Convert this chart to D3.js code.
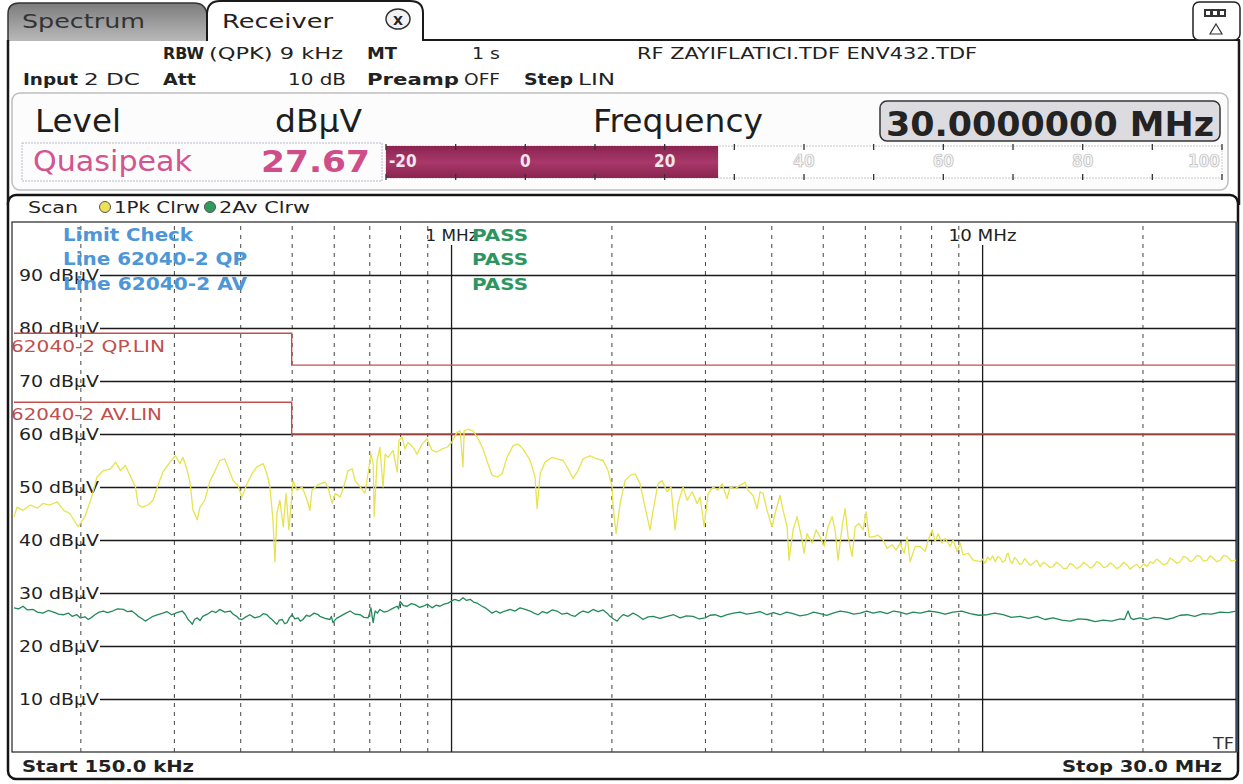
<!DOCTYPE html>
<html>
<head>
<meta charset="utf-8">
<script src="https://cdn.jsdelivr.net/npm/d3@7"></script>
<style>
  body { margin: 0; background: #fff; }
  svg { display: block; font-family: "DejaVu Sans", Verdana, sans-serif; }
</style>
</head>
<body>
<svg id="chart" width="1243" height="784"></svg>
<script>
// ---- Receiver scan data (frequency in MHz, level in dBµV) ----
const pkTrace = [
  [0.150,44.4],[0.152,46.2],[0.156,45.6],[0.161,46.6],[0.166,46.0],[0.170,46.9],[0.175,46.6],[0.181,47.2],
  [0.186,45.6],[0.191,45.0],[0.198,42.5],[0.204,44.4],[0.210,48.1],[0.215,51.9],[0.221,53.1],[0.228,53.4],
  [0.233,54.7],[0.238,53.1],[0.243,54.1],[0.248,52.2],[0.254,50.0],[0.257,46.6],[0.262,46.2],[0.268,46.6],
  [0.274,47.5],[0.280,50.3],[0.286,52.8],[0.295,54.7],[0.302,55.9],[0.308,54.4],[0.312,55.6],[0.318,53.1],
  [0.322,50.6],[0.326,45.6],[0.332,43.8],[0.336,46.2],[0.343,47.5],[0.351,51.2],[0.359,53.1],[0.366,55.0],
  [0.374,55.3],[0.379,53.8],[0.388,51.2],[0.396,50.3],[0.403,48.1],[0.412,50.6],[0.421,52.5],[0.430,53.8],
  [0.442,54.4],[0.449,52.5],[0.455,50.0],[0.461,43.8],[0.465,35.9],[0.469,45.0],[0.475,47.5],[0.482,42.5],
  [0.488,48.8],[0.494,41.9],[0.503,51.2],[0.512,49.4],[0.523,50.0],[0.535,47.5],[0.541,45.6],[0.546,49.4],
  [0.558,50.3],[0.565,50.6],[0.578,50.9],[0.585,50.0],[0.596,46.9],[0.604,48.8],[0.617,48.1],[0.630,50.9],
  [0.638,53.1],[0.650,53.4],[0.658,51.2],[0.673,50.0],[0.687,48.8],[0.696,52.5],[0.705,56.2],[0.712,54.4],
  [0.715,44.4],[0.724,55.0],[0.733,57.5],[0.743,50.0],[0.750,56.2],[0.759,55.6],[0.776,56.9],[0.790,52.8],
  [0.796,58.8],[0.807,59.4],[0.817,57.2],[0.828,58.4],[0.846,57.5],[0.861,56.2],[0.880,58.1],[0.899,59.1],
  [0.919,56.9],[0.939,56.6],[0.960,57.2],[0.981,57.5],[1.000,58.4],[1.024,60.3],[1.038,60.6],[1.051,53.8],
  [1.056,60.6],[1.074,60.9],[1.098,60.6],[1.122,59.1],[1.146,57.2],[1.171,54.4],[1.192,52.2],[1.218,51.9],
  [1.245,52.5],[1.272,55.6],[1.306,57.8],[1.335,58.1],[1.363,57.2],[1.406,55.0],[1.436,51.9],[1.449,45.9],
  [1.468,52.5],[1.500,54.7],[1.546,55.6],[1.580,55.3],[1.622,55.0],[1.658,53.4],[1.693,51.6],[1.730,53.1],
  [1.768,55.3],[1.823,55.9],[1.879,55.3],[1.929,55.0],[1.971,53.1],[2.006,50.0],[2.015,46.2],[2.041,41.2],
  [2.077,46.9],[2.123,51.2],[2.168,52.2],[2.216,52.5],[2.265,50.6],[2.314,46.2],[2.365,41.9],[2.396,45.6],
  [2.448,50.6],[2.491,51.2],[2.546,49.1],[2.590,50.0],[2.636,41.9],[2.670,46.9],[2.729,50.0],[2.777,47.5],
  [2.838,49.1],[2.900,46.9],[2.938,48.1],[2.990,42.5],[3.042,48.8],[3.109,50.0],[3.176,49.4],[3.231,50.6],
  [3.302,47.8],[3.345,50.0],[3.419,49.7],[3.494,50.3],[3.570,50.9],[3.617,49.4],[3.696,48.4],[3.761,45.9],
  [3.810,49.1],[3.860,48.8],[3.927,45.6],[4.013,42.5],[4.066,45.0],[4.155,48.4],[4.210,45.6],[4.284,42.5],
  [4.321,36.2],[4.396,41.9],[4.473,44.4],[4.571,40.0],[4.611,37.5],[4.671,41.2],[4.774,39.4],[4.857,41.9],
  [4.943,40.6],[5.029,38.8],[5.117,42.5],[5.207,44.4],[5.275,41.9],[5.344,36.2],[5.437,42.5],[5.509,45.9],
  [5.581,40.6],[5.679,36.9],[5.754,42.5],[5.854,43.1],[5.957,41.9],[6.035,45.3],[6.114,40.6],[6.221,40.6],
  [6.357,40.9],[6.496,40.0],[6.610,38.4],[6.755,39.1],[6.873,38.1],[6.993,39.4],[7.116,37.5],[7.209,40.6],
  [7.303,35.9],[7.464,38.8],[7.627,38.8],[7.794,37.8],[7.896,40.0],[8.034,41.9],[8.140,39.7],[8.246,41.2],
  [8.391,39.4],[8.501,40.3],[8.687,38.8],[8.801,40.0],[8.955,37.8],[9.072,39.4],[9.191,37.2],[9.392,37.5],
  [9.597,36.2],[9.892,35.9],[10.00,36.4],[10.11,35.6],[10.22,36.8],[10.33,36.2],[10.45,37.0],[10.56,35.9],
  [10.67,36.9],[10.79,36.6],[10.91,35.8],[11.03,36.2],[11.10,37.3],[11.17,37.5],[11.27,36.0],[11.37,35.6],
  [11.49,36.7],[11.61,36.2],[11.74,35.4],[11.87,35.6],[12.00,36.5],[12.13,35.9],[12.29,35.2],[12.45,35.6],
  [12.64,36.2],[12.83,35.0],[13.03,35.8],[13.23,35.3],[13.40,34.8],[13.57,35.0],[13.78,35.8],[13.99,35.3],
  [14.20,34.6],[14.42,34.7],[14.61,35.6],[14.80,35.3],[15.03,34.6],[15.26,35.0],[15.50,35.8],[15.73,35.3],
  [15.94,34.7],[16.15,35.0],[16.40,35.9],[16.64,35.6],[16.90,34.8],[17.16,35.0],[17.38,35.7],[17.61,35.3],
  [17.88,34.6],[18.15,35.0],[18.43,35.8],[18.71,35.3],[18.95,34.5],[19.20,35.0],[19.50,35.4],[19.80,34.7],
  [20.10,35.5],[20.41,35.0],[20.68,35.9],[20.95,35.6],[21.27,36.4],[21.59,35.9],[21.92,35.3],[22.26,35.6],
  [22.55,36.6],[22.85,36.2],[23.20,35.6],[23.55,35.9],[23.90,36.9],[24.27,36.6],[24.60,35.9],[24.91,36.2],
  [25.30,37.1],[25.68,36.9],[26.07,36.0],[26.47,36.2],[26.82,37.0],[27.17,36.6],[27.60,35.9],[28.01,36.2],
  [28.44,37.1],[28.87,36.9],[29.40,36.0],[30.00,36.2]
];

const avTrace = [
  [0.150,27.2],[0.153,27.0],[0.156,27.5],[0.159,26.8],[0.163,26.9],[0.166,26.4],[0.170,26.2],[0.174,26.7],
  [0.178,26.4],[0.182,26.0],[0.186,25.9],[0.190,26.2],[0.193,25.6],[0.197,25.9],[0.200,25.3],[0.204,25.5],
  [0.207,25.0],[0.210,25.4],[0.213,25.9],[0.217,26.4],[0.221,26.6],[0.225,26.3],[0.230,26.6],[0.235,27.0],
  [0.241,26.9],[0.245,26.5],[0.250,26.6],[0.254,26.1],[0.257,25.6],[0.261,25.2],[0.265,24.7],[0.269,25.1],
  [0.274,25.6],[0.280,25.9],[0.286,26.2],[0.291,26.5],[0.297,25.9],[0.304,26.3],[0.311,26.6],[0.315,26.0],
  [0.319,25.0],[0.322,24.6],[0.325,24.1],[0.328,25.0],[0.332,25.3],[0.336,24.8],[0.340,25.6],[0.347,26.0],
  [0.354,26.6],[0.360,26.3],[0.366,26.9],[0.374,26.4],[0.383,26.6],[0.388,26.0],[0.394,25.6],[0.398,25.1],
  [0.403,25.0],[0.410,25.5],[0.417,25.9],[0.426,25.3],[0.436,25.6],[0.442,26.1],[0.449,25.9],[0.454,25.4],
  [0.459,25.0],[0.464,24.5],[0.469,24.1],[0.474,24.9],[0.480,25.0],[0.485,24.2],[0.490,24.4],[0.495,25.3],
  [0.501,25.9],[0.507,25.1],[0.514,25.3],[0.519,24.7],[0.525,25.0],[0.533,25.8],[0.541,25.6],[0.551,26.2],
  [0.561,25.9],[0.565,25.6],[0.578,25.2],[0.590,25.0],[0.594,25.6],[0.598,24.4],[0.607,25.2],[0.617,25.6],
  [0.630,26.1],[0.644,26.6],[0.658,26.0],[0.673,25.9],[0.684,25.4],[0.696,25.3],[0.700,26.0],[0.705,27.2],
  [0.709,25.5],[0.712,24.4],[0.715,25.6],[0.718,26.6],[0.725,26.2],[0.733,26.9],[0.746,26.4],[0.759,26.6],
  [0.775,27.1],[0.790,27.5],[0.795,27.0],[0.800,28.4],[0.812,27.6],[0.825,27.5],[0.840,28.0],[0.854,27.8],
  [0.869,27.3],[0.884,27.5],[0.901,27.9],[0.919,27.2],[0.935,27.7],[0.951,27.5],[0.968,27.9],[0.985,28.1],
  [1.000,28.5],[1.015,28.8],[1.033,28.5],[1.051,29.1],[1.067,28.6],[1.084,28.8],[1.100,28.3],[1.117,28.1],
  [1.137,27.6],[1.157,27.2],[1.175,26.7],[1.192,26.2],[1.213,26.6],[1.234,26.2],[1.260,26.6],[1.289,26.9],
  [1.317,26.6],[1.346,27.2],[1.376,26.9],[1.406,26.6],[1.430,26.2],[1.455,25.9],[1.484,26.5],[1.513,26.2],
  [1.546,26.8],[1.580,26.6],[1.615,26.0],[1.651,26.2],[1.680,25.8],[1.709,25.6],[1.738,26.2],[1.768,26.6],
  [1.808,26.3],[1.847,26.9],[1.888,26.5],[1.929,26.8],[1.963,26.2],[1.988,25.6],[2.020,25.1],[2.050,24.7],
  [2.077,25.4],[2.104,25.9],[2.150,25.6],[2.197,26.2],[2.245,25.7],[2.294,25.0],[2.345,25.5],[2.396,25.6],
  [2.470,25.2],[2.546,25.6],[2.620,25.9],[2.694,25.3],[2.770,25.7],[2.850,25.6],[2.925,25.1],[3.002,25.3],
  [3.068,25.8],[3.135,25.9],[3.218,25.5],[3.302,25.9],[3.398,26.2],[3.494,26.4],[3.595,26.0],[3.696,26.2],
  [3.810,26.5],[3.927,25.9],[4.040,26.3],[4.155,25.9],[4.275,26.4],[4.396,26.1],[4.530,25.7],[4.671,25.9],
  [4.805,26.4],[4.943,26.1],[5.085,25.8],[5.230,26.2],[5.390,26.6],[5.557,26.4],[5.720,26.0],[5.880,26.2],
  [6.050,26.6],[6.221,26.2],[6.410,26.5],[6.610,26.1],[6.800,26.6],[6.993,26.4],[7.190,26.0],[7.398,26.4],
  [7.627,26.2],[7.910,26.6],[8.209,26.4],[8.500,26.0],[8.801,26.4],[9.130,26.6],[9.473,26.1],[9.830,25.8],
  [10.20,25.9],[10.55,26.2],[10.93,25.9],[11.33,25.4],[11.76,25.6],[12.20,25.2],[12.66,25.6],[13.10,25.0],
  [13.57,25.3],[14.10,24.9],[14.62,24.7],[15.16,25.1],[15.73,25.0],[16.30,24.6],[16.87,24.9],[17.50,24.7],
  [18.15,25.1],[18.50,25.0],[18.79,26.6],[19.00,25.3],[19.20,25.0],[19.80,25.3],[20.41,25.0],[21.00,25.4],
  [21.59,25.3],[22.20,25.0],[22.85,25.3],[23.55,25.8],[24.27,25.9],[25.10,25.6],[26.02,26.1],[27.00,26.0],
  [28.01,26.4],[29.00,26.3],[30.00,26.6]
];

// Limit lines (EN 62040-2)
const qpLimit = [[0.15,79],[0.5,79],[0.5,73],[30,73]];
const avLimit = [[0.15,66],[0.5,66],[0.5,60],[30,60]];

// Axis ticks
const yTicks = [10,20,30,40,50,60,70,80,90];
const minorFreqs = [0.2,0.3,0.4,0.5,0.6,0.7,0.8,0.9,2,3,4,5,6,7,8,9,20];
const majorFreqs = [1,10];
const majorFreqLabels = ["1 MHz","10 MHz"];

// Level meter
const meterTicks = [-20,-10,0,10,20,30,40,50,60,70,80,90,100];
const meterLabels = [-20,0,20,40,60,80,100];
const levelValue = 27.67;

// ---- helpers ----
const svg = d3.select("#chart");
const FONT = '"DejaVu Sans", Verdana, sans-serif';
const NARROW = '"Liberation Sans Narrow", "DejaVu Sans Condensed", "Liberation Sans", sans-serif';

function label(parent, x, y, s, o = {}) {
  const t = parent.append("text")
    .attr("x", x).attr("y", y).text(s)
    .attr("font-size", o.size || 16)
    .attr("fill", o.fill || "#222")
    .attr("text-anchor", o.anchor || "start");
  if (o.bold) t.attr("font-weight", "bold");
  if (o.family) t.attr("font-family", o.family);
  if (o.w) t.attr("textLength", o.w).attr("lengthAdjust", "spacingAndGlyphs");
  return t;
}

const defs = svg.append("defs");
const tabGrad = defs.append("linearGradient").attr("id", "tabGrad").attr("x1",0).attr("y1",0).attr("x2",0).attr("y2",1);
tabGrad.append("stop").attr("offset","0%").attr("stop-color","#7c7c7c");
tabGrad.append("stop").attr("offset","100%").attr("stop-color","#b9b9b9");
const barGrad = defs.append("linearGradient").attr("id", "barGrad").attr("x1",0).attr("y1",0).attr("x2",0).attr("y2",1);
barGrad.append("stop").attr("offset","0%").attr("stop-color","#8a2450");
barGrad.append("stop").attr("offset","50%").attr("stop-color","#a8386a");
barGrad.append("stop").attr("offset","100%").attr("stop-color","#8a2450");

// ---- tabs and window frame ----
svg.append("path")
  .attr("d", "M8,41 V14 Q8,3 19,3 H194 Q206,3 207,15 V41")
  .attr("fill", "url(#tabGrad)").attr("stroke", "#333").attr("stroke-width", 1.5);
svg.append("path")
  .attr("d", "M207,41 V13 Q208,1 220,1 H410 Q423,1 423,13 V40 H1240")
  .attr("fill", "#fff").attr("stroke", "#1a1a1a").attr("stroke-width", 2);
svg.append("line").attr("x1", 8).attr("y1", 40).attr("x2", 8).attr("y2", 205).attr("stroke", "#1a1a1a").attr("stroke-width", 2.5);
svg.append("line").attr("x1", 1239).attr("y1", 40).attr("x2", 1239).attr("y2", 205).attr("stroke", "#1a1a1a").attr("stroke-width", 2.5);

label(svg, 22, 28, "Spectrum", {size: 20, fill: "#333", w: 123});
label(svg, 222, 28, "Receiver", {size: 20, fill: "#222", w: 111});
svg.append("ellipse").attr("cx", 398).attr("cy", 19).attr("rx", 12).attr("ry", 10)
  .attr("fill", "#f2f2f2").attr("stroke", "#333").attr("stroke-width", 1.5);
label(svg, 398, 24.5, "X", {size: 13, bold: true, anchor: "middle", fill: "#222"});

// top-right status button
svg.append("rect").attr("x", 1193).attr("y", 2).attr("width", 47).attr("height", 38).attr("rx", 6)
  .attr("fill", "#fff").attr("stroke", "#222").attr("stroke-width", 1.5);
svg.append("rect").attr("x", 1204).attr("y", 9).attr("width", 22).attr("height", 8).attr("fill", "#333");
[1206, 1213, 1220].forEach(bx => svg.append("rect").attr("x", bx).attr("y", 11).attr("width", 4).attr("height", 4).attr("fill", "#fff"));
svg.append("path").attr("d", "M1216,24 L1222,34 L1210,34 Z").attr("fill", "none").attr("stroke", "#333").attr("stroke-width", 1.2);

// ---- setting rows ----
label(svg, 163, 59, "RBW", {bold: true, w: 41});
label(svg, 209, 59, "(QPK) 9 kHz", {w: 134});
label(svg, 367, 59, "MT", {bold: true, w: 30});
label(svg, 472, 59, "1 s", {w: 28});
label(svg, 637, 59, "RF ZAYIFLATICI.TDF ENV432.TDF", {w: 340});
label(svg, 23, 85, "Input", {bold: true, w: 55});
label(svg, 84, 85, "2 DC", {w: 56});
label(svg, 163, 85, "Att", {bold: true, w: 33});
label(svg, 288, 85, "10 dB", {w: 58});
label(svg, 367, 85, "Preamp", {bold: true, w: 92});
label(svg, 464, 85, "OFF", {w: 36});
label(svg, 524, 85, "Step", {bold: true, w: 49});
label(svg, 578, 85, "LIN", {w: 37});

// ---- level panel ----
svg.append("rect").attr("x", 12).attr("y", 93).attr("width", 1216).attr("height", 97).attr("rx", 8)
  .attr("fill", "#fcfcfc").attr("stroke", "#bdbdbd").attr("stroke-width", 1.5);
label(svg, 35, 132, "Level", {size: 32, fill: "#1e1e1e", w: 86});
label(svg, 275, 132, "dBµV", {size: 32, fill: "#1e1e1e", w: 87});
label(svg, 593, 132, "Frequency", {size: 32, fill: "#1e1e1e", w: 170});
svg.append("rect").attr("x", 880).attr("y", 101).attr("width", 340).attr("height", 40).attr("rx", 7)
  .attr("fill", "#dcdce0").attr("stroke", "#333").attr("stroke-width", 1.5);
label(svg, 886, 136, "30.0000000 MHz", {size: 34, bold: true, fill: "#232323", w: 328});

svg.append("rect").attr("x", 22).attr("y", 143).attr("width", 360).attr("height", 38)
  .attr("fill", "none").attr("stroke", "#b8b8c8").attr("stroke-width", 1).attr("stroke-dasharray", "2,1");
label(svg, 33, 171, "Quasipeak", {size: 28, fill: "#d2558f", w: 159});
label(svg, 261, 172, "27.67", {size: 31, bold: true, fill: "#cf4d89", w: 109});

// level bar
const m = d3.scaleLinear().domain([-20, 100]).range([386, 1222]);
const barTop = 146, barBot = 178;
svg.append("rect").attr("x", m(-20)).attr("y", barTop).attr("width", m(100) - m(-20)).attr("height", barBot - barTop)
  .attr("fill", "#fff").attr("stroke", "#c8c8c8").attr("stroke-width", 1).attr("stroke-dasharray", "2,1");
svg.append("rect").attr("x", m(-20)).attr("y", barTop).attr("width", m(levelValue) - m(-20)).attr("height", barBot - barTop)
  .attr("fill", "url(#barGrad)");
svg.selectAll(".mtick-top").data(meterTicks).join("line")
  .attr("x1", d => m(d)).attr("x2", d => m(d)).attr("y1", barTop - 2).attr("y2", barTop + 4)
  .attr("stroke", "#333").attr("stroke-width", 1.3);
svg.selectAll(".mtick-bot").data(meterTicks).join("line")
  .attr("x1", d => m(d)).attr("x2", d => m(d)).attr("y1", barBot - 4).attr("y2", barBot + 2)
  .attr("stroke", "#333").attr("stroke-width", 1.3);
meterLabels.forEach(v => {
  const inside = v < levelValue;
  const anchor = v === -20 ? "start" : (v === 100 ? "end" : "middle");
  const px = v === -20 ? m(v) + 3 : (v === 100 ? m(v) - 2 : m(v));
  const t = label(svg, px, 167, String(v), {size: 17, bold: true, anchor, family: NARROW,
    fill: inside ? "#f3e6ec" : "#f4f4f4"});
  if (!inside) t.attr("stroke", "#bdbdbd").attr("stroke-width", 0.7);
});

// ---- measurement window ----
svg.append("rect").attr("x", 8).attr("y", 195).attr("width", 1230).attr("height", 584).attr("rx", 8)
  .attr("fill", "#fff").attr("stroke", "#141414").attr("stroke-width", 2.5);

label(svg, 28, 213, "Scan", {size: 16, w: 50});
svg.append("circle").attr("cx", 105).attr("cy", 207).attr("r", 5.5).attr("fill", "#ece25a").attr("stroke", "#555").attr("stroke-width", 1);
label(svg, 114, 213, "1Pk Clrw", {size: 16, w: 86});
svg.append("circle").attr("cx", 210).attr("cy", 207).attr("r", 5.5).attr("fill", "#2f9a5e").attr("stroke", "#555").attr("stroke-width", 1);
label(svg, 219, 213, "2Av Clrw", {size: 16, w: 91});

// plot area
const x = d3.scaleLog().domain([0.15, 30]).range([14, 1236]);
const y = d3.scaleLinear().domain([0, 100]).range([752, 222]);
const plotL = 12, plotR = 1236, plotT = 222, plotB = 752;

svg.append("rect").attr("x", plotL).attr("y", plotT).attr("width", plotR - plotL).attr("height", plotB - plotT)
  .attr("fill", "none").attr("stroke", "#222").attr("stroke-width", 1.2);
svg.append("line").attr("x1", plotR + 1).attr("x2", plotR + 1).attr("y1", plotT).attr("y2", plotB)
  .attr("stroke", "#3a4a60").attr("stroke-width", 2);

// dashed frequency grid
const gx = svg.append("g").attr("transform", `translate(0,${plotB})`)
  .call(d3.axisBottom(x).tickValues(minorFreqs).tickSize(-(plotB - plotT)).tickFormat(""));
gx.select(".domain").remove();
gx.selectAll("line").attr("stroke", "#444").attr("stroke-width", 1).attr("stroke-dasharray", "4,5");

// solid decade lines with labels
majorFreqs.forEach((f, i) => {
  svg.append("line").attr("x1", x(f)).attr("x2", x(f)).attr("y1", 245).attr("y2", plotB)
    .attr("stroke", "#1a1a1a").attr("stroke-width", 1.3);
  label(svg, x(f), 241, majorFreqLabels[i], {size: 16, anchor: "middle", w: i === 0 ? 52 : 68});
});

// level grid with labels
const gy = svg.append("g").attr("transform", "translate(100,0)")
  .call(d3.axisLeft(y).tickValues(yTicks).tickSize(-(plotR - 100)).tickPadding(1).tickFormat(d => d + " dBµV"));
gy.select(".domain").remove();
gy.selectAll("line").attr("stroke", "#1a1a1a").attr("stroke-width", 1.3);
gy.selectAll("text").attr("font-size", 16).attr("font-family", FONT).attr("fill", "#222")
  .attr("dy", "0.35em").attr("textLength", 80).attr("lengthAdjust", "spacingAndGlyphs");

// limit lines
const line = d3.line().x(d => x(d[0])).y(d => y(d[1]));
[qpLimit, avLimit].forEach(l => svg.append("path").attr("d", line(l))
  .attr("fill", "none").attr("stroke", "#c4504c").attr("stroke-width", 1.4));
label(svg, 11, 352, "62040-2 QP.LIN", {size: 16, fill: "#c0504c", w: 154});
label(svg, 11, 420, "62040-2 AV.LIN", {size: 16, fill: "#c0504c", w: 151});

// traces
svg.append("path").attr("d", line(avTrace)).attr("fill", "none")
  .attr("stroke", "#23895a").attr("stroke-width", 1.3).attr("stroke-linejoin", "round");
svg.append("path").attr("d", line(pkTrace)).attr("fill", "none")
  .attr("stroke", "#e6e34e").attr("stroke-width", 1.3).attr("stroke-linejoin", "round");

// limit check summary
label(svg, 63, 241, "Limit Check", {size: 17, bold: true, fill: "#4d96d8", w: 130});
label(svg, 63, 265, "Line 62040-2 QP", {size: 17, bold: true, fill: "#4d96d8", w: 184});
label(svg, 63, 290, "Line 62040-2 AV", {size: 17, bold: true, fill: "#4d96d8", w: 184});
[241, 265, 290].forEach(py => label(svg, 472, py, "PASS", {size: 16, bold: true, fill: "#2d9660", w: 56}));

// footer
label(svg, 1213, 749, "TF", {size: 15, fill: "#333", w: 21});
label(svg, 22, 772, "Start 150.0 kHz", {size: 16, bold: true, fill: "#222", w: 172});
label(svg, 1222, 772, "Stop 30.0 MHz", {size: 16, bold: true, fill: "#222", anchor: "end", w: 160});
</script>
</body>
</html>
